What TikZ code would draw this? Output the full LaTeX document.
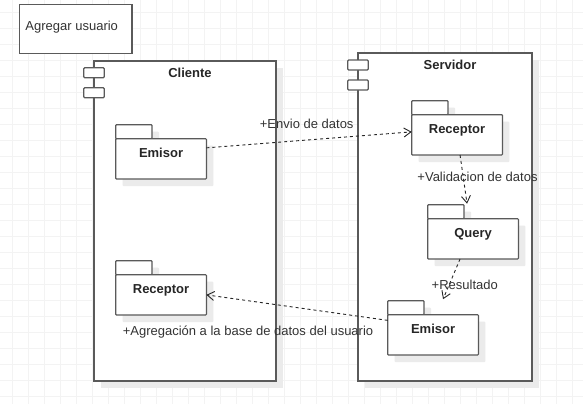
\documentclass[tikz,border=0pt]{standalone}
\usepackage{fontspec}
\setmainfont{Liberation Sans}
\usetikzlibrary{arrows.meta,shadows}

\definecolor{linegray}{HTML}{5A5A5A}
\definecolor{textgray}{HTML}{333333}
\definecolor{shadowgray}{HTML}{EBEBEB}
\definecolor{gridgray}{HTML}{F3F3F3}

\begin{document}
\begin{tikzpicture}[
    x=1bp, y=-1bp,
    font=\fontsize{13bp}{15bp}\selectfont,
    shadowed/.style={drop shadow={shadow xshift=7bp, shadow yshift=-7bp, fill=shadowgray, opacity=1}},
    comp/.style={draw=linegray, line width=1.5bp, fill=white, anchor=north west, inner sep=0pt, outer sep=0pt, shadowed},
    port/.style={draw=linegray, line width=1.2bp, fill=white, minimum width=20.5bp, minimum height=10bp, inner sep=0pt, outer sep=0pt, rounded corners=1bp},
    pkgtab/.style={draw=linegray, line width=1.2bp, fill=white, minimum width=36.3bp, minimum height=14bp, inner sep=0pt, outer sep=0pt, anchor=north west, rounded corners=0.8bp, shadowed},
    pkgbody/.style={draw=linegray, line width=1.2bp, fill=white, minimum width=90.7bp, minimum height=40.3bp, inner sep=0pt, outer sep=0pt, anchor=north west, rounded corners=0.8bp, shadowed},
    dep/.style={draw=black!85, line width=0.9bp, dash pattern=on 3bp off 3bp, -{Straight Barb[length=7bp, width=9bp]}},
    lbl/.style={text=textgray, anchor=base, inner sep=0pt}
]

    % --- Background and grid ---
    \fill[white] (0,0) rectangle (583,404);
    \useasboundingbox (0,0) rectangle (583,404);
    \foreach \gx in {0,...,36} {
        \draw[gridgray, line width=0.9bp] (12.3+16*\gx,0) -- (12.3+16*\gx,404);
    }
    \foreach \gy in {0,...,24} {
        \draw[gridgray, line width=0.9bp] (0,12.7+16*\gy) -- (583,12.7+16*\gy);
    }

    % --- Note ---
    \node[draw=linegray, line width=1.2bp, fill=white, minimum width=112.3bp, minimum height=49bp, anchor=north west, outer sep=0pt] (nota) at (19.7,4.7) {};
    \node[lbl, anchor=base west] (notatxt) at (25.3,30.5) {Agregar usuario};

    % --- Components ---
    \node[comp, minimum width=182bp, minimum height=320bp] (cliente) at (94,61) {};
    \node[port] (clienteportA) at ([yshift=-11.7bp]cliente.north west) {};
    \node[port] (clienteportB) at ([yshift=-31.7bp]cliente.north west) {};

    \node[comp, minimum width=174bp, minimum height=328bp] (servidor) at (358,53) {};
    \node[port] (servidorportA) at ([yshift=-12bp]servidor.north west) {};
    \node[port] (servidorportB) at ([yshift=-32bp]servidor.north west) {};

    % --- Packages (tab first, body hangs from the tab) ---
    \node[pkgtab] (cemisortab) at (115.7,124.7) {};
    \node[pkgbody] (cemisor) at (cemisortab.south west) {};
    \node[pkgtab] (creceptortab) at (115.7,260.7) {};
    \node[pkgbody] (creceptor) at (creceptortab.south west) {};
    \node[pkgtab] (sreceptortab) at (411.7,100.7) {};
    \node[pkgbody] (sreceptor) at (sreceptortab.south west) {};
    \node[pkgtab] (squerytab) at (427.7,204.7) {};
    \node[pkgbody] (squery) at (squerytab.south west) {};
    \node[pkgtab] (semisortab) at (387.7,300.7) {};
    \node[pkgbody] (semisor) at (semisortab.south west) {};

    % --- Titles (baseline below the top edge) ---
    \begin{scope}[every node/.style={font=\fontsize{13bp}{15bp}\selectfont\bfseries, text=black!85, anchor=base, inner sep=0pt}]
        \node[xshift=5bp, yshift=-16.5bp] (clientetit) at (cliente.north) {Cliente};
        \node[xshift=5bp, yshift=-16.5bp] (servidortit) at (servidor.north) {Servidor};
        \node[yshift=-18.3bp] (cemisortit) at (cemisor.north) {Emisor};
        \node[yshift=-18.3bp] (creceptortit) at (creceptor.north) {Receptor};
        \node[yshift=-18.3bp] (sreceptortit) at (sreceptor.north) {Receptor};
        \node[yshift=-18.3bp] (squerytit) at (squery.north) {Query};
        \node[yshift=-18.3bp] (semisortit) at (semisor.north) {Emisor};
    \end{scope}

    % --- Dependencies ---
    \draw[dep] ([yshift=11bp]cemisor.east) -- ([yshift=3bp]sreceptor.west);
    \draw[dep] ([xshift=3bp]sreceptor.south) -- ([xshift=-6bp,yshift=15bp]squery.north);
    \draw[dep] ([xshift=-13bp]squery.south) -- ([xshift=10bp,yshift=15.5bp]semisor.north);
    \draw[dep] ([yshift=14.5bp]semisor.west) -- (creceptor.east);

    % --- Dependency labels ---
    \node[lbl] (lblenvio) at (306.7,128.8) {+Envio de datos};
    \node[lbl] (lblvalida) at (477.5,181) {+Validacion de datos};
    \node[lbl] (lblresult) at (464.8,289) {+Resultado};
    \node[lbl] (lblagrega) at (248,335.3) {+Agregación a la base de datos del usuario};

\end{tikzpicture}
\end{document}
